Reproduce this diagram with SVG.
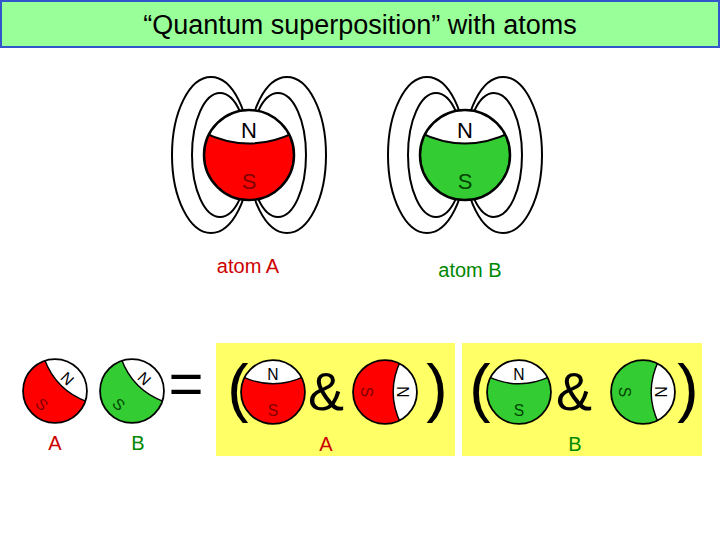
<svg xmlns="http://www.w3.org/2000/svg" xmlns:xlink="http://www.w3.org/1999/xlink" width="720" height="540" viewBox="0 0 720 540">
<style>
text{font-family:"Liberation Sans",Arial,sans-serif}
.loop{fill:none;stroke:#000;stroke-width:2}
.big{font-size:64px}
.lbl{font-size:20px}
</style>
<defs>
<clipPath id="cc"><circle r="45"/></clipPath>
<g id="cap"><path d="M-50,-25 Q0,2 50,-25 L50,-60 L-50,-60 Z" fill="#fff" stroke="#000" stroke-width="2" clip-path="url(#cc)"/><circle r="45" fill="none" stroke="#000" stroke-width="2.5"/><text y="-17" text-anchor="middle" font-size="22">N</text></g>
<g id="atomR"><circle r="45" fill="#ff0000"/><use xlink:href="#cap"/><text y="34" text-anchor="middle" font-size="22" fill="#800000">S</text></g>
<g id="atomG"><circle r="45" fill="#33cc33"/><use xlink:href="#cap"/><text y="34" text-anchor="middle" font-size="22" fill="#004400">S</text></g>
</defs>
<rect x="1" y="1" width="718" height="46" fill="#99ff99" stroke="#3355cc" stroke-width="2"/>
<text x="360" y="34" text-anchor="middle" font-size="27">“Quantum superposition” with atoms</text>
<g id="atomA-top">
<ellipse class="loop" cx="211" cy="155" rx="39" ry="78"/><ellipse class="loop" cx="220" cy="155" rx="28" ry="62"/>
<ellipse class="loop" cx="287" cy="155" rx="39" ry="78"/><ellipse class="loop" cx="278" cy="155" rx="28" ry="62"/>
<use xlink:href="#atomR" transform="translate(249,155)"/>
<text x="248" y="273" text-anchor="middle" class="lbl" fill="#cc0000">atom A</text>
</g>
<g id="atomB-top">
<ellipse class="loop" cx="427" cy="155" rx="39" ry="78"/><ellipse class="loop" cx="436" cy="155" rx="28" ry="62"/>
<ellipse class="loop" cx="503" cy="155" rx="39" ry="78"/><ellipse class="loop" cx="494" cy="155" rx="28" ry="62"/>
<use xlink:href="#atomG" transform="translate(465,155)"/>
<text x="470" y="277" text-anchor="middle" class="lbl" fill="#008800">atom B</text>
</g>
<g id="left">
<use xlink:href="#atomR" transform="translate(55,391) scale(0.71) rotate(45)"/>
<text x="55" y="450" text-anchor="middle" class="lbl" fill="#cc0000">A</text>
<use xlink:href="#atomG" transform="translate(132,391) scale(0.71) rotate(45)"/>
<text x="138" y="450" text-anchor="middle" class="lbl" fill="#008800">B</text>
<text x="186" y="404" text-anchor="middle" font-size="60">=</text>
</g>
<g id="boxA">
<rect x="216" y="343" width="239" height="113" fill="#ffff66"/>
<text x="238" y="410" text-anchor="middle" class="big">(</text>
<use xlink:href="#atomR" transform="translate(273,392) scale(0.71)"/>
<text x="326" y="410" text-anchor="middle" font-size="54">&amp;</text>
<use xlink:href="#atomR" transform="translate(385,392) scale(0.71) rotate(90)"/>
<text x="437" y="410" text-anchor="middle" class="big">)</text>
<text x="326" y="451" text-anchor="middle" class="lbl" fill="#cc0000">A</text>
</g>
<g id="boxB">
<rect x="462" y="343" width="240" height="113" fill="#ffff66"/>
<text x="480" y="410" text-anchor="middle" class="big">(</text>
<use xlink:href="#atomG" transform="translate(519,392) scale(0.71)"/>
<text x="574" y="410" text-anchor="middle" font-size="54">&amp;</text>
<use xlink:href="#atomG" transform="translate(643,392) scale(0.71) rotate(90)"/>
<text x="688" y="410" text-anchor="middle" class="big">)</text>
<text x="575" y="451" text-anchor="middle" class="lbl" fill="#008800">B</text>
</g>
<g id="connectors"/>
</svg>
